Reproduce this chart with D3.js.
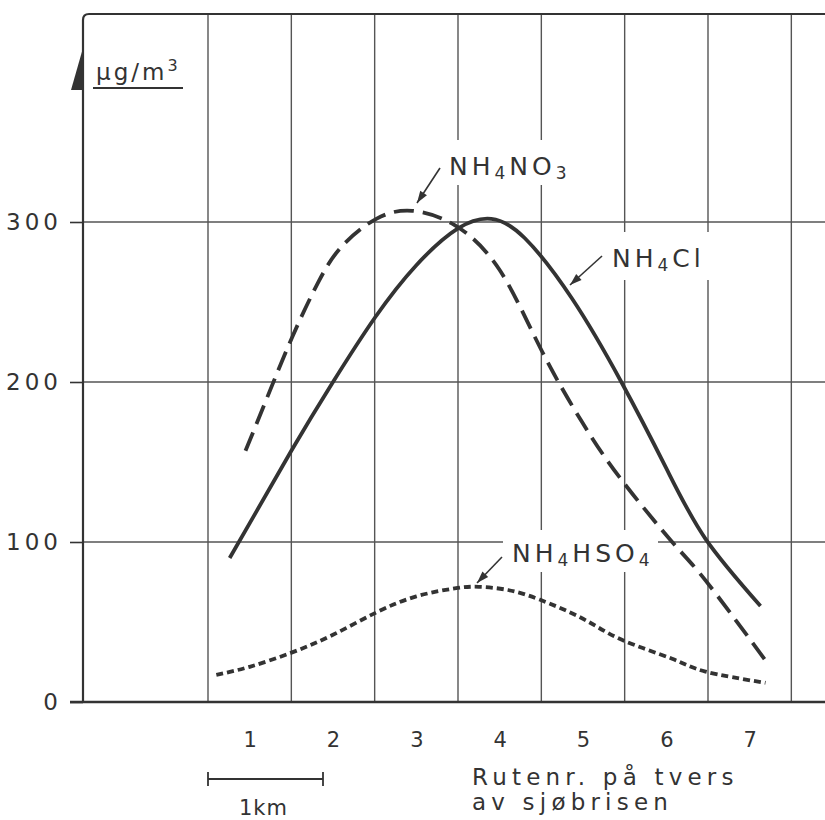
<!DOCTYPE html>
<html lang="no">
<head>
<meta charset="UTF-8">
<title>NH4-salter over sjøbrisen</title>
<script src="https://d3js.org/d3.v7.min.js"></script>
<style>
  body { margin: 0; background: #fff; }
  svg { display: block; }
  text { font-family: "DejaVu Sans", sans-serif; fill: #333; }
</style>
</head>
<body>
<svg id="chart"></svg>
<script>
const width = 825, height = 820;
const svg = d3.select("#chart").attr("width", width).attr("height", height);

// ==== data (route number, µg/m3) ====
const routes = [1, 2, 3, 4, 5, 6, 7];
const yTicks = [0, 100, 200, 300];

const clX = [0.76, 1.5, 2.0, 2.5, 3.0, 3.5, 3.9, 4.3, 4.87, 5.46, 6.0, 6.47, 7.13];
const clY = [90, 157, 200, 240, 273, 296, 302, 290, 252, 200, 146, 102, 60];

const no3X = [0.95, 1.2, 1.51, 1.83, 2.11, 2.52, 2.95, 3.46, 4.0, 4.5, 5.0, 5.46, 6.07, 6.47, 7.19];
const no3Y = [157, 189, 228, 263, 285, 302, 307, 298, 270, 220, 174, 139, 100, 76, 26];

const hso4X = [0.6, 1.0, 1.51, 2.0, 2.52, 3.0, 3.46, 3.75, 4.1, 4.48, 5.0, 5.46, 6.07, 6.47, 7.19];
const hso4Y = [17, 22, 31, 42, 56, 66, 71, 72, 70, 64, 52, 39, 27, 19, 12];

const ink = "#333";

// scales
const x = d3.scaleLinear().domain([-1, 8]).range([83, 833]);
const y = d3.scaleLinear().domain([0, 430]).range([702, 14]);

// grid
const grid = svg.append("g").attr("stroke", "#555").attr("stroke-width", 1.4);
grid.selectAll(".v").data(d3.range(0.5, 8, 1)).enter().append("line")
  .attr("x1", d => x(d)).attr("x2", d => x(d))
  .attr("y1", y(430)).attr("y2", y(0));
grid.selectAll(".h").data(yTicks.slice(1)).enter().append("line")
  .attr("x1", x(-1)).attr("x2", width)
  .attr("y1", d => y(d)).attr("y2", d => y(d));

// frame: left axis, top and bottom
svg.append("path")
  .attr("d", `M${x(-1)},${y(0)} L${x(-1)},${y(430) + 6} Q${x(-1)},${y(430)} ${x(-1) + 6},${y(430)} L${width},${y(430)}`)
  .attr("fill", "none").attr("stroke", ink).attr("stroke-width", 2.2);
svg.append("line")
  .attr("x1", 70).attr("x2", width).attr("y1", y(0)).attr("y2", y(0))
  .attr("stroke", ink).attr("stroke-width", 2.6);

// y axis ticks and labels
const yAxis = d3.axisLeft(y).tickValues(yTicks).tickSize(13).tickPadding(8);
const gy = svg.append("g").attr("transform", `translate(${x(-1)},0)`).call(yAxis);
gy.select(".domain").remove();
gy.selectAll(".tick line").attr("stroke", ink).attr("stroke-width", 1.6);
gy.selectAll(".tick text").attr("font-size", 23).attr("letter-spacing", 4)
  .attr("font-family", "DejaVu Sans").attr("fill", ink);

// x axis labels
const xAxis = d3.axisBottom(x).tickValues(routes).tickSize(0).tickPadding(30);
const gx = svg.append("g").attr("transform", `translate(0,${y(0)})`).call(xAxis);
gx.select(".domain").remove();
gx.selectAll(".tick text").attr("font-size", 21)
  .attr("font-family", "DejaVu Sans").attr("fill", ink);

// arrowhead on y axis and unit
svg.append("path")
  .attr("d", `M${x(-1)},48 L${x(-1)},90 L71,90 Z`)
  .attr("fill", ink);
const unit = svg.append("text").attr("x", 96).attr("y", 80).attr("font-size", 23).attr("letter-spacing", 3);
unit.append("tspan").text("µg/m");
unit.append("tspan").attr("font-size", 16).attr("dy", -9).text("3");
svg.append("line").attr("x1", 93).attr("x2", 183).attr("y1", 88).attr("y2", 88)
  .attr("stroke", ink).attr("stroke-width", 1.8);

// curves
const line = d3.line().x(d => x(d[0])).y(d => y(d[1])).curve(d3.curveNatural);
const series = [
  { xs: clX, ys: clY, dash: null },
  { xs: no3X, ys: no3Y, dash: "20,9" },
  { xs: hso4X, ys: hso4Y, dash: "7,4" }
];
svg.selectAll(".curve").data(series).enter().append("path")
  .attr("d", s => line(d3.zip(s.xs, s.ys)))
  .attr("fill", "none").attr("stroke", ink).attr("stroke-width", 3.8)
  .attr("stroke-dasharray", s => s.dash);

// labels with white knock-out and pointer arrows
function label(px, py, parts, box) {
  svg.append("rect").attr("x", box[0]).attr("y", box[1]).attr("width", box[2]).attr("height", box[3])
    .attr("fill", "#fff");
  const t = svg.append("text").attr("x", px).attr("y", py).attr("font-size", 25).attr("letter-spacing", 4);
  parts.forEach(p => {
    if (p.sub) t.append("tspan").attr("font-size", 17).attr("dy", 4).text(p.t);
    else t.append("tspan").attr("dy", p.after ? -4 : 0).text(p.t);
  });
}
label(449, 175, [{ t: "NH" }, { t: "4", sub: true }, { t: "NO", after: true }, { t: "3", sub: true }],
  [440, 140, 135, 45]);
label(612, 267, [{ t: "NH" }, { t: "4", sub: true }, { t: "Cl", after: true }],
  [605, 232, 108, 48]);
label(512, 562, [{ t: "NH" }, { t: "4", sub: true }, { t: "HSO", after: true }, { t: "4", sub: true }],
  [503, 530, 155, 42]);

const arrows = [[440, 168, 417, 203], [602, 256, 570, 285], [502, 557, 477, 583]];
arrows.forEach(([x1, y1, x2, y2]) => {
  const a = Math.atan2(y2 - y1, x2 - x1), L = 12, W = 4;
  svg.append("line").attr("x1", x1).attr("y1", y1).attr("x2", x2).attr("y2", y2)
    .attr("stroke", ink).attr("stroke-width", 1.6);
  const bx = x2 - L * Math.cos(a), by = y2 - L * Math.sin(a);
  svg.append("path")
    .attr("d", `M${x2},${y2} L${bx - W * Math.sin(a)},${by + W * Math.cos(a)} L${bx + W * Math.sin(a)},${by - W * Math.cos(a)} Z`)
    .attr("fill", ink);
});

// x axis title
const title = svg.append("text").attr("x", 472).attr("font-size", 23).attr("letter-spacing", 5.2);
title.append("tspan").attr("x", 472).attr("y", 785).text("Rutenr. på tvers");
title.append("tspan").attr("x", 472).attr("y", 810).text("av sjøbrisen");

// scale bar
svg.append("path").attr("d", "M208,772 L208,786 M208,779 L323,779 M323,772 L323,786")
  .attr("fill", "none").attr("stroke", ink).attr("stroke-width", 1.8);
svg.append("text").attr("x", 239).attr("y", 815).attr("font-size", 21).attr("letter-spacing", 1).text("1km");
</script>
</body>
</html>
